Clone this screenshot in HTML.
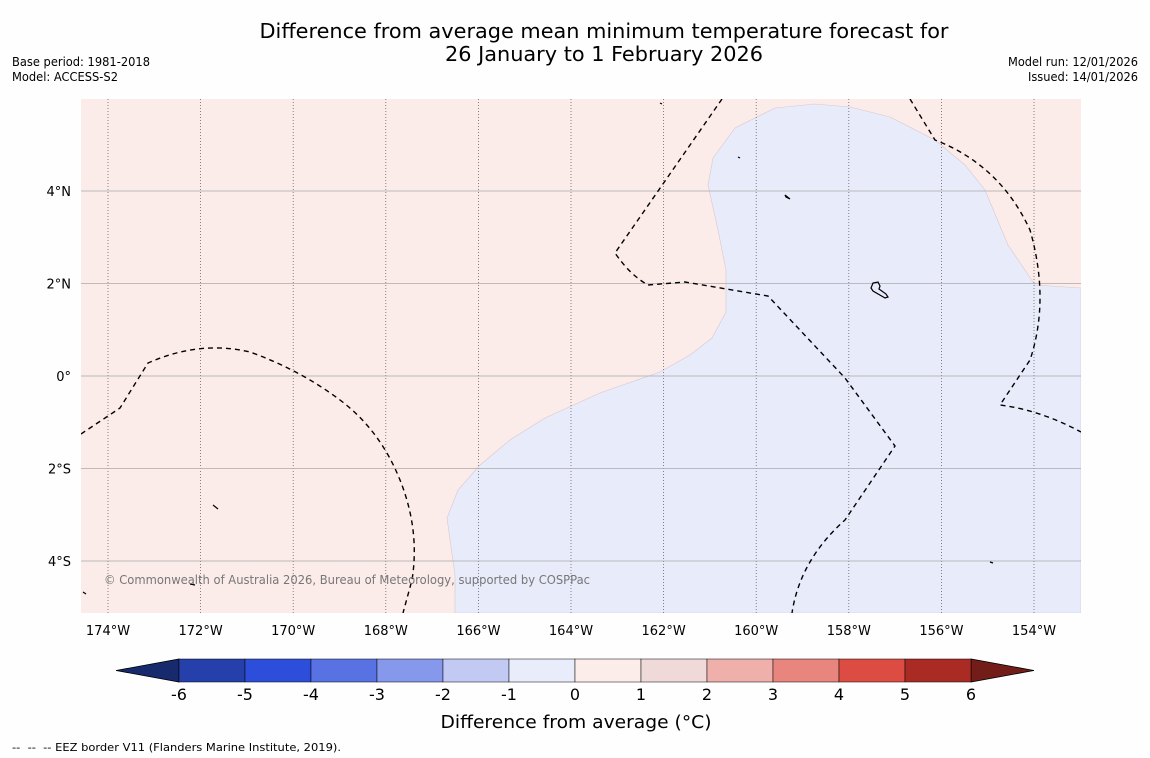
<!DOCTYPE html>
<html><head><meta charset="utf-8">
<style>
body{margin:0;background:#fff;width:1150px;height:758px;overflow:hidden;font-family:"DejaVu Sans","Liberation Sans",sans-serif;}
svg{display:block}
</style></head>
<body>
<svg id="chart" width="1150" height="758" xmlns="http://www.w3.org/2000/svg">
<rect width="1150" height="758" fill="#fefefe"/>
<text x="604" y="38" font-size="20" text-anchor="middle" textLength="689" lengthAdjust="spacingAndGlyphs" font-family="DejaVu Sans, sans-serif">Difference from average mean minimum temperature forecast for</text>
<text x="604" y="61" font-size="20" text-anchor="middle" textLength="318" lengthAdjust="spacingAndGlyphs" font-family="DejaVu Sans, sans-serif">26 January to 1 February 2026</text>
<text x="12" y="66" font-size="12" textLength="138" lengthAdjust="spacingAndGlyphs">Base period: 1981-2018</text>
<text x="12" y="81" font-size="12" textLength="106" lengthAdjust="spacingAndGlyphs">Model: ACCESS-S2</text>
<text x="1008" y="66" font-size="12" textLength="130" lengthAdjust="spacingAndGlyphs">Model run: 12/01/2026</text>
<text x="1028" y="81" font-size="12" textLength="110" lengthAdjust="spacingAndGlyphs">Issued: 14/01/2026</text>
<defs><clipPath id="mapclip"><rect x="81" y="99" width="1000" height="514"/></clipPath></defs>
<g clip-path="url(#mapclip)">
<rect x="81" y="99" width="1000" height="514" fill="#fbebe9"/>
<path d="M455,613 L455,575 L447,518 L458,490 L480,465 L510,440 L545,418 L600,393 L660,372 L690,355 L712,338 L726,312 L726,270 L718,230 L708,185 L713,158 L735,128 L775,108 L815,104 L850,107 L890,117 L935,140 L965,165 L985,190 L1008,245 L1035,285 L1081,288 L1081,613 Z" fill="#e8ebfa" stroke="#d8c8d0" stroke-width="0.6"/>
<g id="grid"></g>
<g fill="none" stroke="#000" stroke-width="1.4" stroke-dasharray="5,4">
<path d="M81,434 L120,408 L148,363 Q200,340 250,352 Q300,370 340,400 Q380,430 400,480 Q420,530 412,580 L403,613"/>
<path d="M722,99 L615,253 Q630,275 648,285 L685,282 L768,296 L845,378 L895,446 L845,520 Q800,560 792,613"/>
<path d="M910,99 L935,140 Q1000,165 1030,230 Q1050,300 1030,360 L1000,405 Q1040,410 1081,432"/>
</g>
<g fill="none" stroke="#000" stroke-width="1.2">
<path d="M785,195 L790,199 L786,197 Z"/>
<path d="M871,288 L873,283 L878,282 L880,286 L879,289 L886,294 L888,297 L885,298 L873,291 Z"/>
<path d="M213,505 L218,509"/>
<path d="M190,584 L195,585"/>
<path d="M738,157 L740,158"/>
<path d="M990,562 L993,563"/>
<path d="M660,103 L662,104"/>
<path d="M83,592 L86,594"/>
</g>
<text x="104" y="584" font-size="12" fill="#777" textLength="486" lengthAdjust="spacingAndGlyphs">© Commonwealth of Australia 2026, Bureau of Meteorology, supported by COSPPac</text>
</g>
<g id="axes"></g>
<g id="cbar"></g>
<text x="576" y="728" font-size="18" text-anchor="middle" textLength="271" lengthAdjust="spacingAndGlyphs" font-family="DejaVu Sans, sans-serif">Difference from average (°C)</text>
<text x="12" y="751" font-size="11" xml:space="preserve" textLength="329" lengthAdjust="spacingAndGlyphs">--  --  -- EEZ border V11 (Flanders Marine Institute, 2019).</text>
</svg>
<script>
const lonTicks=[-174,-172,-170,-168,-166,-164,-162,-160,-158,-156,-154];
const latTicks=[4,2,0,-2,-4];
const cbarLevels=[-6,-5,-4,-3,-2,-1,0,1,2,3,4,5,6];
const cbarColors=["#2540ab","#2d4ddb","#5872e3","#8598ec","#c2caf4","#e9ecfb","#fcedea","#efdad9","#efb0ab","#e8857e","#dd4c43","#a92b24"];
const ns="http://www.w3.org/2000/svg";
const xS=lon=>108+(lon+174)*46.3;
const yS=lat=>376-lat*46.25;
function mk(tag,attrs,parent){const e=document.createElementNS(ns,tag);for(const k in attrs)e.setAttribute(k,attrs[k]);parent.appendChild(e);return e;}
const grid=document.getElementById('grid'),axes=document.getElementById('axes'),cb=document.getElementById('cbar');
lonTicks.forEach(l=>{
 const ln=mk('line',{x1:xS(l),x2:xS(l),y1:99,y2:613,stroke:'#666','stroke-width':0.8,'stroke-dasharray':'1,2'},grid);
 
 
 const t=mk('text',{x:xS(l),y:635,'font-size':13,'text-anchor':'middle','font-family':'DejaVu Sans, sans-serif'},axes);
 t.textContent=Math.abs(l)+'°W';
 
 
});
latTicks.forEach(l=>{
 const ln=mk('line',{x1:81,x2:1081,y1:yS(l),y2:yS(l),stroke:'#aaa','stroke-width':0.8},grid);
 
 
 const t=mk('text',{x:71,y:yS(l)+5,'font-size':13,'text-anchor':'end','font-family':'DejaVu Sans, sans-serif'},axes);
 t.textContent=l===0?'0°':Math.abs(l)+(l>0?'°N':'°S');
 
 
});
const cx=v=>179+(v+6)*66, cy0=659, ch=23;
const lt=mk('polygon',{points:`116,${cy0+ch/2} ${cx(-6)},${cy0} ${cx(-6)},${cy0+ch}`,fill:'#182a6e',stroke:'#000','stroke-width':0.8},cb);


const rt=mk('polygon',{points:`1034,${cy0+ch/2} ${cx(6)},${cy0} ${cx(6)},${cy0+ch}`,fill:'#731d19',stroke:'#000','stroke-width':0.8},cb);


cbarColors.forEach((c,i)=>{
 const r=mk('rect',{x:cx(cbarLevels[i]),y:cy0,width:cx(cbarLevels[i+1])-cx(cbarLevels[i]),height:ch,fill:c,stroke:'#000','stroke-width':0.5},cb);
 
 
});
cbarLevels.forEach(v=>{
 const t=mk('text',{x:cx(v),y:700,'font-size':16,'text-anchor':'middle','font-family':'DejaVu Sans, sans-serif'},cb);
 t.textContent=v;
 
 
});
</script>
</body></html>
